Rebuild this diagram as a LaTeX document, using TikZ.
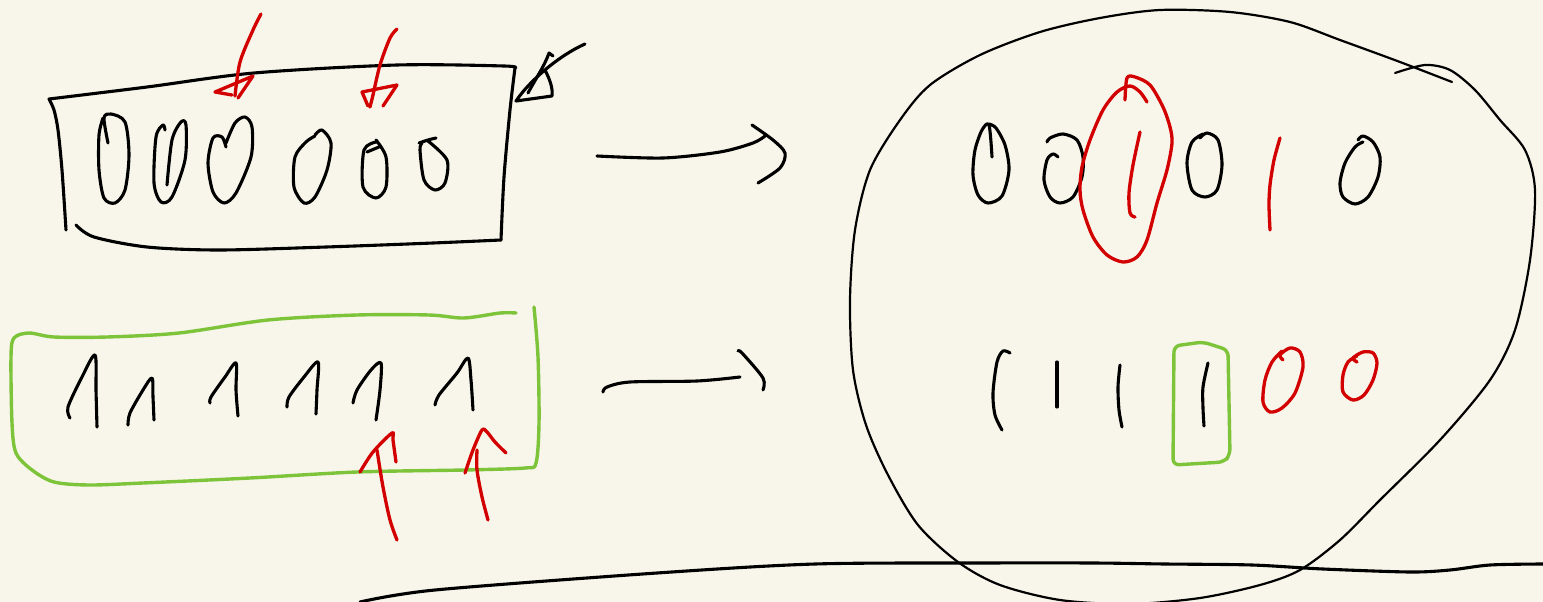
\documentclass[tikz,border=0pt]{standalone}
\usepackage{tikz}
\definecolor{paper}{RGB}{248,246,234}
\definecolor{inkred}{RGB}{210,0,0}
\definecolor{inkgreen}{RGB}{126,196,58}

\begin{document}
\begin{tikzpicture}[x=1pt, y=-1pt,
  ink/.style={draw=black, line width=3.1pt, line cap=round, line join=round},
  thinink/.style={ink, line width=2.2pt},
  redink/.style={ink, draw=inkred, line width=3.3pt},
  greenink/.style={ink, draw=inkgreen, line width=3.4pt}]
  \fill[paper] (0,0) rectangle (1543,602);
  \useasboundingbox (0,0) rectangle (1543,602);

  % top left box with six zeros
  \draw[ink] plot[smooth] coordinates {(66,230) (62,170) (58,130) (54,110) (49,99)}
    -- plot[smooth] coordinates {(49,99) (147,87) (254,73) (397,65) (504,66) (515,68)}
    -- plot[smooth] coordinates {(515,68) (510,110) (504,177) (501,240)};
  \draw[ink] plot[smooth] coordinates {(76,225) (94,237) (147,247) (219,250) (326,247) (433,243) (501,240)};
  \draw[ink] plot[smooth] coordinates {(108,143) (104,118) (111,114) (125,122) (129,155) (125,190) (115,203) (104,198) (99,170) (99,135) (103,118)};
  \draw[ink] plot[smooth] coordinates {(167,185) (172,140) (181,122) (186,125) (185,160) (172,197) (161,202) (154,183) (156,137) (163,125) (165,130)};
  \draw[ink] plot[smooth] coordinates {(226,147) (222,137) (213,138) (208,163) (213,192) (224,203) (236,193) (251,157) (252,127) (245,117) (235,123) (226,143)};
  \draw[ink] plot[smooth] coordinates {(315,135) (322,130) (331,143) (327,170) (315,197) (304,203) (294,187) (295,157) (306,142) (315,136)};
  \draw[ink] plot[smooth] coordinates {(376,140) (386,157) (386,187) (376,198) (363,187) (364,150) (376,142)};
  \draw[ink] (367,152) -- (379,147);
  \draw[ink] plot[smooth] coordinates {(419,143) (428,140) (436,138)};
  \draw[ink] plot[smooth] coordinates {(428,141) (447,160) (445,183) (435,190) (424,180) (420,150) (422,143)};

  % red arrows into the box
  \draw[redink] plot[smooth] coordinates {(261,14) (253,30) (240,62) (235,96)};
  \draw[redink] (232,95) -- (215,92) -- (253,76) -- (238,98);
  \draw[redink] plot[smooth] coordinates {(397,29) (390,38) (380,65) (373,95) (370,107)};
  \draw[redink] (368,106) -- (362,92) -- (397,85) -- (383,106);

  % crossed mark at the corner
  \draw[ink] (585,44) .. controls (560,55) and (530,80) .. (516,101) -- (552,96) .. controls (553,88) and (550,80) .. (545,70);
  \draw[ink] (553,56) -- (549,53) .. controls (545,65) and (535,80) .. (528,93);

  % bottom left box with six ones
  \draw[greenink] plot[smooth] coordinates {(516,313) (500,313) (464,318) (429,315) (357,315) (268,320) (179,333) (107,337) (54,337) (29,333) (14,338) (11,357) (12,423) (16,453) (32,470) (54,482) (89,485) (143,483) (250,478) (357,472) (464,470) (525,468) (536,463) (539,423) (538,357) (534,307)};
  \draw[ink] plot[smooth] coordinates {(70,418) (68,407) (82,377) (95,355) (96,390) (97,427)};
  \draw[ink] plot[smooth] coordinates {(128,425) (130,413) (143,390) (152,378) (153,397) (154,420)};
  \draw[ink] plot[smooth] coordinates {(210,403) (211,397) (225,377) (236,363) (236,390) (238,416)};
  \draw[ink] plot[smooth] coordinates {(287,407) (289,397) (304,377) (318,362) (317,390) (316,414)};
  \draw[ink] plot[smooth] coordinates {(353,403) (357,390) (371,370) (381,363) (380,390) (376,420)};
  \draw[ink] plot[smooth] coordinates {(435,405) (439,395) (457,373) (468,358) (471,380) (473,410)};

  % red arrows out of the box
  \draw[redink] plot[smooth] coordinates {(397,540) (390,520) (383,487) (377,450)};
  \draw[redink] plot[smooth] coordinates {(360,472) (373,452) (392,433) (393,440) (396,462)};
  \draw[redink] plot[smooth] coordinates {(488,520) (482,497) (477,470) (477,450)};
  \draw[redink] plot[smooth] coordinates {(465,473) (473,450) (482,430) (487,432) (495,442) (506,453)};

  % arrows to the right
  \draw[ink] plot[smooth] coordinates {(597,156) (663,158) (720,152) (753,143) (765,136)};
  \draw[ink] plot[smooth] coordinates {(752,125) (773,140) (785,153) (780,168) (758,183)};
  \draw[ink] plot[smooth] coordinates {(603,392) (607,387) (630,382) (697,381) (740,377)};
  \draw[ink] plot[smooth] coordinates {(738,351) (742,353) (763,378) (763,390)};

  % big circle
  \draw[thinink] plot[smooth] coordinates {(1452,82) (1400,62) (1340,40) (1290,22) (1230,12) (1160,10) (1100,18) (1040,32) (980,55) (930,85) (900,120) (870,170) (855,230) (850,300) (853,370) (866,425) (888,475) (918,525) (958,562) (1000,585) (1060,600) (1130,604) (1200,598) (1260,585) (1300,570) (1340,540) (1380,500) (1440,440) (1490,380) (1515,330) (1530,260) (1535,190) (1525,150) (1500,120) (1475,90) (1450,70) (1425,65) (1395,73)};

  % top row in the circle
  \draw[ink] plot[smooth] coordinates {(992,157) (989,125) (982,130) (975,150) (973,175) (978,195) (988,203) (1002,196) (1009,170) (1005,145) (996,128) (989,124)};
  \draw[ink] plot[smooth] coordinates {(1058,157) (1053,154) (1047,160) (1044,180) (1050,197) (1060,203) (1073,197) (1082,177) (1083,157) (1077,140) (1063,134) (1050,138) (1047,142)};
  \draw[redink] plot[smooth] coordinates {(1125,100) (1127,78) (1135,77) (1150,85) (1163,107) (1170,127) (1172,143) (1167,170) (1157,203) (1147,240) (1137,257) (1123,262) (1107,255) (1093,237) (1083,210) (1080,190) (1082,167) (1090,140) (1103,110) (1117,92) (1130,86) (1140,92) (1147,102)};
  \draw[redink] plot[smooth] coordinates {(1140,132) (1133,165) (1129,193) (1130,213) (1135,217)};
  \draw[ink] plot[smooth] coordinates {(1200,138) (1207,133) (1218,140) (1222,165) (1217,190) (1205,197) (1192,190) (1187,163) (1192,142) (1203,134)};
  \draw[redink] plot[smooth] coordinates {(1280,138) (1274,160) (1270,185) (1269,205) (1270,230)};
  \draw[ink] plot[smooth] coordinates {(1358,140) (1363,136) (1373,142) (1380,157) (1378,177) (1368,197) (1355,204) (1343,197) (1340,183) (1345,163) (1355,147) (1363,142)};

  % bottom row in the circle
  \draw[ink] plot[smooth] coordinates {(1010,353) (1003,351) (997,362) (993,393) (995,415) (1002,430)};
  \draw[ink] plot[smooth] coordinates {(1057,362) (1057,385) (1057,407)};
  \draw[ink] plot[smooth] coordinates {(1120,365) (1118,387) (1119,410) (1122,427)};
  \draw[greenink, rounded corners=6pt] (1174,346) -- (1203,342) -- (1228,350) -- (1230,455) -- (1224,462) -- (1173,465) -- cycle;
  \draw[ink] plot[smooth] coordinates {(1208,363) (1203,387) (1203,408) (1204,426)};
  \draw[redink] plot[smooth] coordinates {(1283,360) (1280,355) (1290,348) (1300,352) (1303,367) (1295,393) (1282,408) (1270,412) (1263,402) (1265,380) (1272,362) (1282,351)};
  \draw[redink] plot[smooth] coordinates {(1357,362) (1353,358) (1363,352) (1373,353) (1377,363) (1373,380) (1364,395) (1353,400) (1343,392) (1343,375) (1348,362) (1357,356)};

  % bottom line
  \draw[ink] plot[smooth] coordinates {(360,602) (435,590) (657,573) (815,564) (982,563) (1093,563) (1165,564) (1252,565) (1323,569) (1410,572) (1450,570) (1490,565) (1543,564)};
\end{tikzpicture}
\end{document}
